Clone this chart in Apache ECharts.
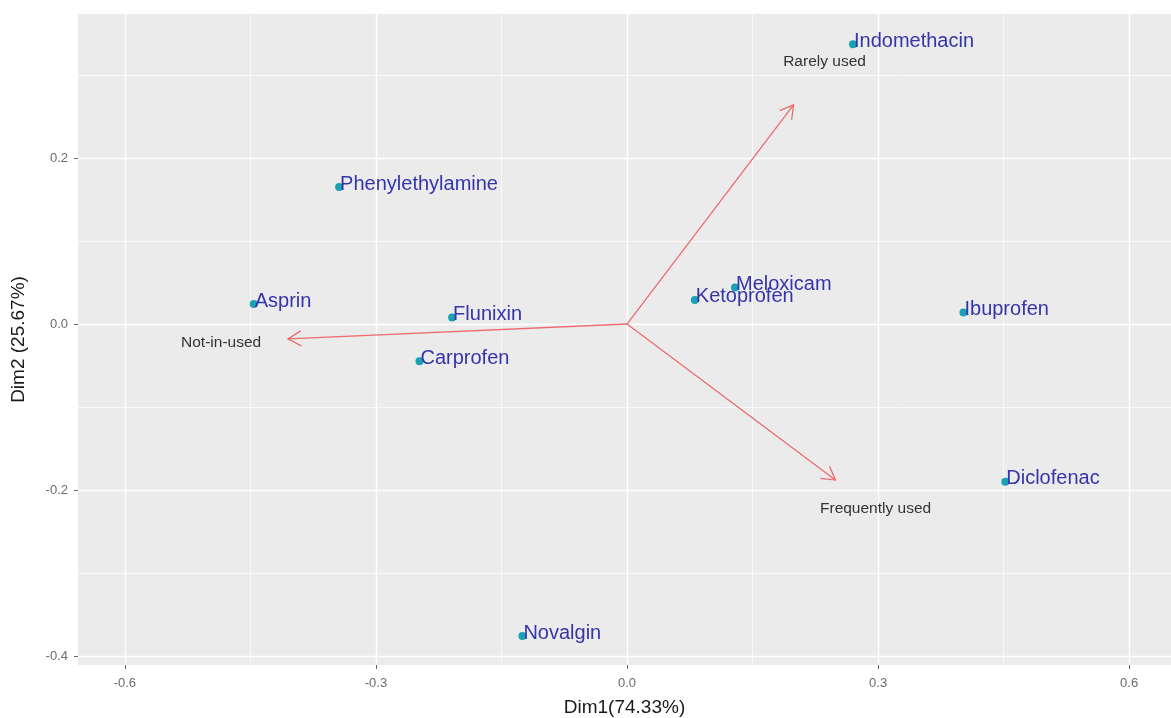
<!DOCTYPE html>
<html>
<head>
<meta charset="utf-8">
<script src="https://cdn.jsdelivr.net/npm/echarts@6/dist/echarts.min.js"></script>
<style>
html,body{margin:0;padding:0;background:#fff;}
#chart{width:1171px;height:718px;}
</style>
</head>
<body>
<div id="chart"></div>
<script>
const drugNames = ['Indomethacin','Phenylethylamine','Asprin','Flunixin','Carprofen','Meloxicam','Ketoprofen','Ibuprofen','Diclofenac','Novalgin'];
const dim1 = [0.270, -0.344, -0.446, -0.209, -0.248, 0.129, 0.081, 0.402, 0.452, -0.125];
const dim2 = [0.337, 0.165, 0.024, 0.008, -0.045, 0.044, 0.029, 0.014, -0.190, -0.376];

const arrowNames = ['Rarely used','Not-in-used','Frequently used'];
const arrowDim1 = [0.199, -0.405, 0.249];
const arrowDim2 = [0.264, -0.018, -0.188];
const arrowLabelDim1 = [0.236, -0.485, 0.297];
const arrowLabelDim2 = [0.316, -0.022, -0.223];

const xTicks = [-0.6, -0.3, 0.0, 0.3, 0.6];
const xMinor = [-0.45, -0.15, 0.15, 0.45];
const yTicks = [-0.4, -0.2, 0.0, 0.2];
const yMinor = [-0.3, -0.1, 0.1, 0.3];
const xRange = [-0.656, 0.650];
const yRange = [-0.4108, 0.3735];

const gridLines = [];
xMinor.forEach(v => gridLines.push({xAxis: v, lineStyle: {width: 0.7}}));
yMinor.forEach(v => gridLines.push({yAxis: v, lineStyle: {width: 0.7}}));
xTicks.forEach(v => gridLines.push({xAxis: v, lineStyle: {width: 1.4}}));
yTicks.forEach(v => gridLines.push({yAxis: v, lineStyle: {width: 1.4}}));

const arrowColor = '#ee6b6e';
const fontFam = 'Liberation Sans, Arial, sans-serif';

const chart = echarts.init(document.getElementById('chart'));
chart.setOption({
  animation: false,
  backgroundColor: '#ffffff',
  grid: {left: 78, right: 0, top: 14, bottom: 53, show: true, backgroundColor: '#ebebeb', borderWidth: 0,
         containLabel: false, outerBoundsMode: 'none'},
  xAxis: {
    type: 'value', min: xRange[0], max: xRange[1],
    name: 'Dim1(74.33%)', nameLocation: 'middle', nameGap: 33,
    nameTextStyle: {fontSize: 19, color: '#1a1a1a', fontFamily: fontFam},
    axisLine: {show: false, onZero: false},
    axisTick: {show: true, customValues: xTicks, length: 4, lineStyle: {color: '#666'}},
    axisLabel: {customValues: xTicks, formatter: v => v.toFixed(1), fontSize: 13, color: '#6b6b6b', margin: 12, fontFamily: fontFam},
    splitLine: {show: false}
  },
  yAxis: {
    type: 'value', min: yRange[0], max: yRange[1],
    name: 'Dim2 (25.67%)', nameLocation: 'middle', nameGap: 50, nameRotate: 90,
    nameTextStyle: {fontSize: 19, color: '#1a1a1a', fontFamily: fontFam},
    axisLine: {show: false, onZero: false},
    axisTick: {show: true, customValues: yTicks, length: 4, lineStyle: {color: '#666'}},
    axisLabel: {customValues: yTicks, formatter: v => v.toFixed(1), fontSize: 13, color: '#6b6b6b', margin: 10, fontFamily: fontFam},
    splitLine: {show: false}
  },
  series: [
    {
      type: 'scatter', data: [], z: 0, silent: true,
      markLine: {
        z: 0, silent: true, symbol: 'none', label: {show: false},
        lineStyle: {color: '#ffffff', type: 'solid'},
        data: gridLines
      }
    },
    {
      type: 'custom', z: 3, silent: true,
      data: arrowDim1.map((x, i) => [x, arrowDim2[i]]),
      renderItem: function (params, api) {
        const o = api.coord([0, 0]);
        const t = api.coord([api.value(0), api.value(1)]);
        const ang = Math.atan2(t[1] - o[1], t[0] - o[0]);
        const L = 15, a = Math.PI / 6;
        const p1 = [t[0] - L * Math.cos(ang - a), t[1] - L * Math.sin(ang - a)];
        const p2 = [t[0] - L * Math.cos(ang + a), t[1] - L * Math.sin(ang + a)];
        return {type: 'group', children: [
          {type: 'line', shape: {x1: o[0], y1: o[1], x2: t[0], y2: t[1]}, style: {stroke: arrowColor, lineWidth: 1.3}},
          {type: 'polyline', shape: {points: [p1, t, p2]}, style: {stroke: arrowColor, fill: null, lineWidth: 1.3}}
        ]};
      }
    },
    {
      type: 'custom', z: 3, silent: true,
      data: arrowLabelDim1.map((x, i) => [x, arrowLabelDim2[i]]),
      renderItem: function (params, api) {
        const p = api.coord([api.value(0), api.value(1)]);
        return {type: 'text', x: p[0], y: p[1], style: {
          text: arrowNames[params.dataIndex], fill: '#333333', fontSize: 15.5,
          fontFamily: fontFam, align: 'center', verticalAlign: 'middle'
        }};
      }
    },
    {
      type: 'scatter', z: 4,
      data: dim1.map((x, i) => ({value: [x, dim2[i]], name: drugNames[i]})),
      symbolSize: 8,
      itemStyle: {color: '#1aa2b4', opacity: 1},
      label: {
        show: true, position: 'right', distance: 0, offset: [-3, -3],
        formatter: p => p.name, color: '#3535ab', fontSize: 20,
        fontFamily: fontFam
      }
    }
  ]
});
</script>
</body>
</html>
